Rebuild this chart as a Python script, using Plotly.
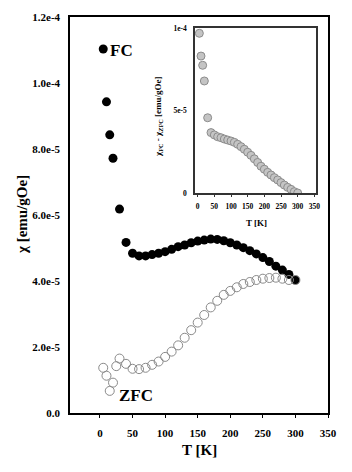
import plotly.graph_objects as go

# ---- data ----
T_fc = [5, 10, 15, 20, 30, 40, 50, 60, 70, 80, 90, 100, 110, 120, 130, 140, 150,
        160, 170, 180, 190, 200, 210, 220, 230, 240, 250, 260, 270, 280, 290, 300]
chi_fc = [110.3, 94.3, 84.3, 77.2, 61.8, 51.7, 48.4, 47.6, 47.6, 48.0, 48.4, 48.9,
          49.6, 50.4, 50.9, 51.6, 52.1, 52.4, 52.7, 52.6, 52.2, 51.6, 50.9, 50.1,
          49.2, 48.2, 47.1, 45.9, 44.5, 43.3, 42.0, 40.3]  # x1e-6

T_zfc = [5, 10, 15, 20, 25, 30, 40, 50, 60, 70, 80, 90, 100, 110, 120, 130, 140, 150,
         160, 170, 180, 190, 200, 210, 220, 230, 240, 250, 260, 270, 280, 290, 300]
chi_zfc = [13.7, 11.3, 6.7, 9.2, 14.2, 16.5, 14.9, 13.4, 13.3, 13.7, 14.6, 15.6, 17.0,
           18.6, 20.5, 22.8, 25.1, 27.4, 29.7, 32.0, 34.0, 35.8, 37.0, 38.1, 39.1,
           39.7, 40.3, 40.7, 40.9, 41.0, 40.7, 40.3, 40.3]  # x1e-6

T_diff = [5, 10, 15, 20, 30, 40, 50, 60, 70, 80, 90, 100, 110, 120, 130, 140, 150,
          160, 170, 180, 190, 200, 210, 220, 230, 240, 250, 260, 270, 280, 290, 300]
chi_diff = [96.8, 83.0, 77.4, 67.9, 45.6, 36.6, 35.2, 34.1, 33.5, 32.7, 32.1, 31.5,
            30.7, 29.5, 28.1, 26.5, 24.7, 22.8, 20.7, 18.5, 16.2, 14.4, 12.5, 10.9,
            9.3, 7.9, 6.3, 4.8, 3.4, 2.2, 0.8, 0.0]  # x1e-6

main_x_ticks = [0, 50, 100, 150, 200, 250, 300, 350]
main_y_ticks = [0, 2e-5, 4e-5, 6e-5, 8e-5, 1e-4, 1.2e-4]
main_y_text = ["0.0", "2.0e-5", "4.0e-5", "6.0e-5", "8.0e-5", "1.0e-4", "1.2e-4"]
inset_y_ticks = [0, 5e-5, 1e-4]
inset_y_text = ["0", "5e-5", "1e-4"]

scale = 1e-6
SERIF = "Liberation Serif"

fig = go.Figure()
fig.add_trace(go.Scatter(
    x=T_fc, y=[v * scale for v in chi_fc], mode="markers",
    marker=dict(size=9, color="black", line=dict(width=0)),
    xaxis="x", yaxis="y", showlegend=False))
fig.add_trace(go.Scatter(
    x=T_zfc, y=[v * scale for v in chi_zfc], mode="markers",
    marker=dict(size=9, color="rgba(255,255,255,0)", line=dict(width=1, color="#8a8a8a")),
    xaxis="x", yaxis="y", showlegend=False))
fig.add_trace(go.Scatter(
    x=T_diff, y=[v * scale for v in chi_diff], mode="markers",
    marker=dict(size=8, color="#c4c4c4", line=dict(width=1, color="#8c8c8c")),
    xaxis="x2", yaxis="y2", showlegend=False))

tickfont_main = dict(family=SERIF, size=11, color="black", weight="bold")
tickfont_inset = dict(family=SERIF, size=7.5, color="black", weight="bold")

fig.update_layout(
    width=352, height=472,
    margin=dict(l=70, r=24, t=17, b=59, pad=0),
    paper_bgcolor="white", plot_bgcolor="white",
    xaxis=dict(domain=[0, 1], range=[-46, 350], tickvals=main_x_ticks,
               ticks="outside", ticklen=3, tickwidth=1, tickcolor="black",
               showline=True, linecolor="black", linewidth=1.5, mirror=True,
               showgrid=False, zeroline=False, tickfont=tickfont_main,
               ticklabelstandoff=6),
    yaxis=dict(domain=[0, 1], range=[0, 1.2e-4], tickvals=main_y_ticks,
               ticktext=main_y_text, ticks="",
               showline=True, linecolor="black", linewidth=1.5, mirror=True,
               showgrid=False, zeroline=False, tickfont=tickfont_main,
               ticklabelstandoff=6),
    xaxis2=dict(domain=[0.4845, 0.9535], range=[-8, 355], anchor="y2",
                tickvals=main_x_ticks, ticks="outside", ticklen=2, tickwidth=1,
                tickcolor="#333", showline=True, linecolor="#333", linewidth=1.5,
                mirror=True, showgrid=False, zeroline=False,
                tickfont=tickfont_inset, ticklabelstandoff=3),
    yaxis2=dict(domain=[0.5556, 0.9722], range=[0, 1.0e-4], anchor="x2",
                tickvals=inset_y_ticks, ticktext=inset_y_text, ticks="",
                showline=True, linecolor="#333", linewidth=1.5, mirror=True,
                showgrid=False, zeroline=False, tickfont=tickfont_inset,
                ticklabelstandoff=5),
)

ann_font = lambda s: dict(family=SERIF, size=s, color="black", weight="bold")
fig.add_annotation(text="T [K]", xref="paper", yref="paper", x=0.5, y=-0.0934,
                   xanchor="center", yanchor="middle", showarrow=False, font=ann_font(15))
fig.add_annotation(text="χ [emu/gOe]", xref="paper", yref="paper", x=-0.186, y=0.5,
                   xanchor="center", yanchor="middle", textangle=-90, showarrow=False,
                   font=ann_font(15))
fig.add_annotation(text="T [K]", xref="paper", yref="paper", x=0.7248, y=0.4798,
                   xanchor="center", yanchor="middle", showarrow=False, font=ann_font(9))
fig.add_annotation(text="χ<sub>FC</sub> - χ<sub>ZFC</sub> [emu/gOe]", xref="paper",
                   yref="paper", x=0.345, y=0.7475, xanchor="center", yanchor="middle",
                   textangle=-90, showarrow=False, font=ann_font(9))
fig.add_annotation(text="FC", xref="x", yref="y", x=12, y=1.10e-4, xanchor="left",
                   yanchor="middle", showarrow=False, font=ann_font(17))
fig.add_annotation(text="ZFC", xref="x", yref="y", x=26, y=5.4e-6, xanchor="left",
                   yanchor="middle", showarrow=False, font=ann_font(17))

fig.write_html("out.html")
